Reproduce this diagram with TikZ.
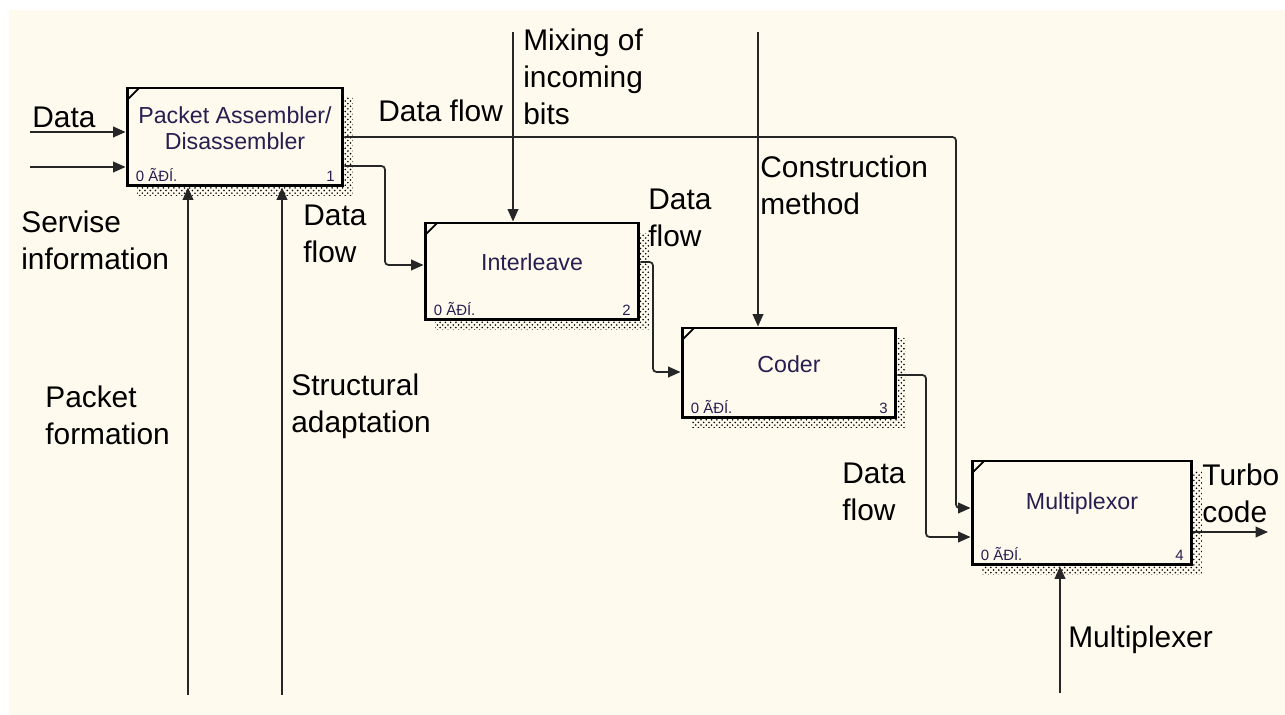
\documentclass[tikz,border=0pt]{standalone}
\usepackage{fontspec}
\setmainfont{Liberation Sans}
\usetikzlibrary{arrows.meta,shadows,patterns}
\definecolor{paper}{RGB}{255,250,238}
\definecolor{ink}{RGB}{40,30,80}
\begin{document}
\begin{tikzpicture}[
  x=0.02cm, y=-0.02cm,
  block/.style={rectangle, draw, line width=1.7pt, fill=paper, inner sep=0pt,
    general shadow={shadow xshift=0.2cm, shadow yshift=-0.2cm, pattern=crosshatch dots, pattern color=black},
    path picture={\draw[line width=1pt] ([yshift=-0.24cm]path picture bounding box.north west) -- ([xshift=0.24cm]path picture bounding box.north west);}},
  title/.style={yshift=0.18cm, align=center, text=ink, font=\fontsize{13.2}{14.7}\selectfont},
  cost/.style={anchor=south west, inner sep=0pt, xshift=0.2cm, yshift=0.11cm, text=ink, font=\fontsize{8.5}{10}\selectfont},
  num/.style={anchor=south east, inner sep=0pt, xshift=-0.19cm, yshift=0.11cm, text=ink, font=\fontsize{8.5}{10}\selectfont},
  tag/.style={anchor=base west, inner sep=0pt, align=left, font=\fontsize{17}{21.3}\selectfont},
  flow/.style={draw=black!85, line width=1pt, rounded corners=2pt, -{Triangle[length=7pt,width=6pt]}}
]
\useasboundingbox (0,0) rectangle (1285,715);
\fill[white] (0,0) rectangle (1285,715);
\fill[paper] (9,10) rectangle (1285,715);

% activity boxes
\node[block, minimum width=4.32cm, minimum height=1.96cm,
  label={[title]center:Packet Assembler/\\Disassembler},
  label={[cost]south west:0 ÃÐÍ.}, label={[num]south east:1}] (pad) at (235,137) {};
\node[block, minimum width=4.28cm, minimum height=1.94cm,
  label={[title]center:Interleave},
  label={[cost]south west:0 ÃÐÍ.}, label={[num]south east:2}] (ilv) at (532,271.5) {};
\node[block, minimum width=4.28cm, minimum height=1.80cm,
  label={[title]center:Coder},
  label={[cost]south west:0 ÃÐÍ.}, label={[num]south east:3}] (cod) at (789,373) {};
\node[block, minimum width=4.40cm, minimum height=2.08cm,
  label={[title]center:Multiplexor},
  label={[cost]south west:0 ÃÐÍ.}, label={[num]south east:4}] (mux) at (1082,513) {};

% free ends
\coordinate (dataIn) at (30,132);
\coordinate (servIn) at (30,167);
\coordinate (packIn) at (188,695);
\coordinate (strIn) at (282,695);
\coordinate (mixIn) at (513,32);
\coordinate (consIn) at (758,32);
\coordinate (muxIn) at (1060,693);
\coordinate (turboOut) at (1268,532);

% arrows
\draw[flow] (dataIn) -- (pad.west |- dataIn);
\draw[flow] (servIn) -- (pad.west |- servIn);
\draw[flow] (packIn) -- (pad.south -| packIn);
\draw[flow] (strIn) -- (pad.south -| strIn);
\draw[flow] (pad.east |- 0,137) -- (956,137) -- (956,508) -- (mux.west |- 0,508);
\draw[flow] (pad.east |- 0,166) -- (385,166) -- (385,265) -- (ilv.west |- 0,265);
\draw[flow] (mixIn) -- (ilv.north -| mixIn);
\draw[flow] (ilv.east |- 0,262) -- (653,262) -- (653,372) -- (cod.west |- 0,372);
\draw[flow] (consIn) -- (cod.north -| consIn);
\draw[flow] (cod.east |- 0,375) -- (926,375) -- (926,537) -- (mux.west |- 0,537);
\draw[flow] (muxIn) -- (mux.south -| muxIn);
\draw[flow] (mux.east |- turboOut) -- (turboOut);

% labels (base = last line)
\node[tag] (lData) at (32,128) {Data};
\node[tag] (lServ) at (21,270) {Servise\\information};
\node[tag] (lPack) at (45,445) {Packet\\formation};
\node[tag] (lStr) at (291,433) {Structural\\adaptation};
\node[tag] (lFlowA) at (378,122) {Data flow};
\node[tag] (lFlowB) at (303,263) {Data\\flow};
\node[tag] (lMix) at (523,125) {Mixing of\\incoming\\bits};
\node[tag] (lFlowC) at (648,247) {Data\\flow};
\node[tag] (lCons) at (760,215) {Construction\\method};
\node[tag] (lFlowD) at (842,521) {Data\\flow};
\node[tag] (lTurbo) at (1202,523) {Turbo\\code};
\node[tag] (lMux) at (1068,648) {Multiplexer};
\end{tikzpicture}
\end{document}
